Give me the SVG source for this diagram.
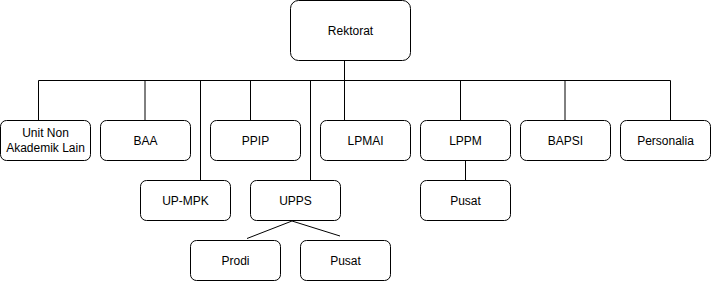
<svg xmlns="http://www.w3.org/2000/svg" width="711" height="281" viewBox="0 0 711 281">
<style>
.n{fill:#fff;stroke:#000;stroke-width:1}
.t{font-family:"Liberation Sans",Arial,sans-serif;font-size:12px;fill:#000;text-anchor:middle;dominant-baseline:central}
.c{stroke:#000;stroke-width:1;fill:none}
</style>
<rect width="711" height="281" fill="#fff"/>
<g id="connectors">
<path class="c" d="M38.5 80.5H670.5M38.5 80.5V120M250.5 80.5V120M460.5 80.5V120M670.5 80.5V120M200.5 80.5V180M310.5 80.5V180M344.5 60V120M465.5 160V180"/>
<path class="c" d="M145 81V120M565 81V120"/>
<path class="c" d="M292 221L247 238.5M292 221L340 236"/>
</g>
<g id="rektorat"><rect class="n" x="290.5" y="0.5" width="120" height="60" rx="8"/><text class="t" x="350.5" y="30.5">Rektorat</text></g>
<g id="unit-non"><rect class="n" x="0.5" y="120.5" width="90" height="40" rx="6"/><text class="t" x="45.5" y="133">Unit Non</text><text class="t" x="45.5" y="148">Akademik Lain</text></g>
<g id="baa"><rect class="n" x="100.5" y="120.5" width="90" height="40" rx="6"/><text class="t" x="145.5" y="140.5">BAA</text></g>
<g id="ppip"><rect class="n" x="210.5" y="120.5" width="90" height="40" rx="6"/><text class="t" x="255.5" y="140.5">PPIP</text></g>
<g id="lpmai"><rect class="n" x="320.5" y="120.5" width="90" height="40" rx="6"/><text class="t" x="365.5" y="140.5">LPMAI</text></g>
<g id="lppm"><rect class="n" x="420.5" y="120.5" width="90" height="40" rx="6"/><text class="t" x="465.5" y="140.5">LPPM</text></g>
<g id="bapsi"><rect class="n" x="520.5" y="120.5" width="90" height="40" rx="6"/><text class="t" x="565.5" y="140.5">BAPSI</text></g>
<g id="personalia"><rect class="n" x="620.5" y="120.5" width="90" height="40" rx="6"/><text class="t" x="665.5" y="140.5">Personalia</text></g>
<g id="up-mpk"><rect class="n" x="140.5" y="180.5" width="90" height="40" rx="6"/><text class="t" x="185.5" y="200.5">UP-MPK</text></g>
<g id="upps"><rect class="n" x="250.5" y="180.5" width="90" height="40" rx="6"/><text class="t" x="295.5" y="200.5">UPPS</text></g>
<g id="pusat-lppm"><rect class="n" x="420.5" y="180.5" width="90" height="40" rx="6"/><text class="t" x="465.5" y="200.5">Pusat</text></g>
<g id="prodi"><rect class="n" x="190.5" y="240.5" width="90" height="40" rx="6"/><text class="t" x="235.5" y="260.5">Prodi</text></g>
<g id="pusat-upps"><rect class="n" x="300.5" y="240.5" width="90" height="40" rx="6"/><text class="t" x="345.5" y="260.5">Pusat</text></g>
</svg>
